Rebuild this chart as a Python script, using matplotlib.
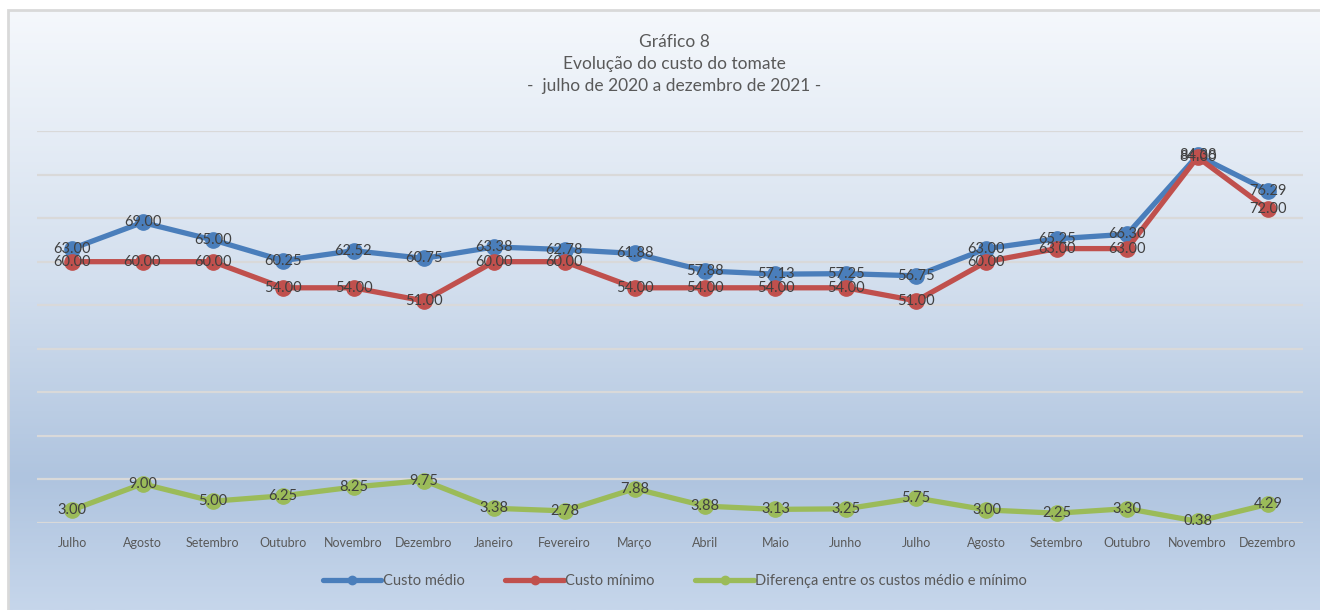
import numpy as np
import matplotlib
matplotlib.use("Agg")
import matplotlib.pyplot as plt
from matplotlib.colors import LinearSegmentedColormap
from matplotlib.patches import Rectangle

plt.rcParams["font.family"] = ["Lato", "DejaVu Sans"]

months = ["Julho", "Agosto", "Setembro", "Outubro", "Novembro", "Dezembro",
          "Janeiro", "Fevereiro", "Março", "Abril", "Maio", "Junho",
          "Julho", "Agosto", "Setembro", "Outubro", "Novembro", "Dezembro"]
custo_medio = [63.00, 69.00, 65.00, 60.25, 62.52, 60.75, 63.38, 62.78, 61.88,
               57.88, 57.13, 57.25, 56.75, 63.00, 65.25, 66.30, 84.38, 76.29]
custo_minimo = [60.00, 60.00, 60.00, 54.00, 54.00, 51.00, 60.00, 60.00, 54.00,
                54.00, 54.00, 54.00, 51.00, 60.00, 63.00, 63.00, 84.00, 72.00]
diferenca = [3.00, 9.00, 5.00, 6.25, 8.25, 9.75, 3.38, 2.78, 7.88,
             3.88, 3.13, 3.25, 5.75, 3.00, 2.25, 3.30, 0.38, 4.29]

series = [
    ("Custo médio", custo_medio, "#4a7ebb"),
    ("Custo mínimo", custo_minimo, "#c0504d"),
    ("Diferença entre os custos médio e mínimo", diferenca, "#9bbb59"),
]

W, H = 1320, 610
fig = plt.figure(figsize=(W / 100, H / 100), dpi=100)

# background panel with vertical gradient
bg = fig.add_axes([0, 0, 1, 1], zorder=-1)
bg.set_xlim(0, 1)
bg.set_ylim(0, 1)
bg.axis("off")
cmap = LinearSegmentedColormap.from_list(
    "bg", [(0.0, "#f5f8fc"), (0.45, "#d3dfee"), (0.78, "#afc4df"), (1.0, "#c6d6eb")])
grad = np.linspace(0, 1, 256).reshape(-1, 1)
bg.imshow(grad, cmap=cmap, aspect="auto",
          extent=[8 / W, 1, 0, 1 - 10 / H], origin="upper")
bg.add_patch(Rectangle((8 / W, -0.01), 1.0, 1 - 10 / H + 0.01, fill=False,
                       edgecolor="#d9d9d9", linewidth=2))

ax = fig.add_axes([37 / W, 1 - 523 / H, (1303 - 37) / W, (523 - 131) / H])
ax.patch.set_alpha(0)
x = np.arange(len(months))
for name, vals, color in series:
    ax.plot(x, vals, color=color, linewidth=3.8, marker="o", markersize=11,
            label=name, solid_capstyle="round", zorder=3)
    for xi, v in zip(x, vals):
        ax.text(xi, v, f"{v:.2f}", ha="center", va="center", fontsize=10.5,
                color="#404040", zorder=4)

ax.set_xlim(-0.5, len(months) - 0.5)
ax.set_ylim(0, 90)
ax.set_yticks(np.arange(0, 91, 10))
ax.yaxis.grid(True, color="#d9d9d9", linewidth=1.6)
ax.set_axisbelow(True)
ax.tick_params(axis="y", left=False, labelleft=False)
ax.tick_params(axis="x", length=0, pad=10, labelsize=9, labelcolor="#595959")
ax.set_xticks(x)
ax.set_xticklabels(months)
for s in ax.spines.values():
    s.set_visible(False)

title_lines = ["Gráfico 8", "Evolução do custo do tomate",
               "-  julho de 2020 a dezembro de 2021 -"]
for i, t in enumerate(title_lines):
    fig.text(674 / W, 1 - (42 + 22 * i) / H, t, ha="center", va="center",
             fontsize=12.5, color="#595959")

leg = fig.legend(loc="center", bbox_to_anchor=(675 / W, 1 - 581 / H), ncol=3,
                 frameon=False, fontsize=10.5, handlelength=4.0,
                 handletextpad=0.1, columnspacing=2.8, labelcolor="#595959")
for line in leg.get_lines():
    line.set_markersize(6)

fig.savefig("out.png", dpi=100)
